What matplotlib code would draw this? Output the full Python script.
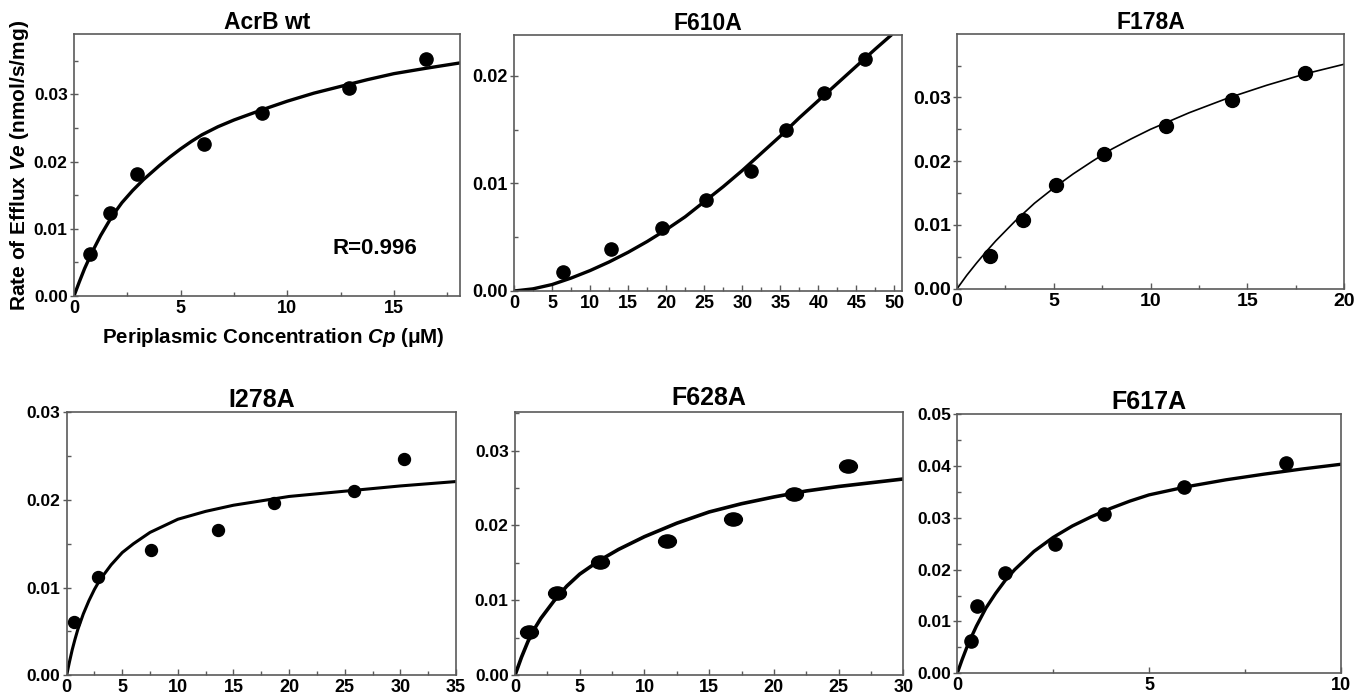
import matplotlib
matplotlib.use("Agg")
import matplotlib.pyplot as plt
from matplotlib.ticker import MultipleLocator, FormatStrFormatter
from matplotlib.markers import MarkerStyle
from matplotlib.transforms import Affine2D

plt.rcParams['font.family'] = ['Liberation Sans', 'DejaVu Sans']
plt.rcParams['font.weight'] = 'bold'
plt.rcParams['mathtext.fontset'] = 'custom'
plt.rcParams['mathtext.it'] = 'Liberation Sans:italic:bold'
plt.rcParams['mathtext.rm'] = 'Liberation Sans:bold'

# ---- data ----
titles = ["AcrB wt", "F610A", "F178A", "I278A", "F628A", "F617A"]

wt_x = [0.75, 1.7, 2.95, 6.1, 8.8, 12.9, 16.5]
wt_y = [0.0062, 0.0123, 0.0181, 0.0226, 0.0273, 0.0310, 0.0353]
wt_fit_x = [0, 0.25, 0.5, 0.83, 1.25, 1.77, 2.25, 2.75, 3.25, 4, 4.5, 5, 5.5, 6, 6.75, 7.5,
            8.8, 10, 11.25, 12.5, 13.75, 15, 16.5, 18.1]
wt_fit_y = [0, 0.0021, 0.0041, 0.0064, 0.0090, 0.0118, 0.0139, 0.0157, 0.0173, 0.0194,
            0.0207, 0.0219, 0.0230, 0.0240, 0.0252, 0.0262, 0.0277, 0.0290, 0.0302,
            0.0312, 0.0322, 0.0331, 0.0339, 0.0347]

f610_x = [6.5, 12.8, 19.4, 25.3, 31.2, 35.7, 40.8, 46.1]
f610_y = [0.0018, 0.0039, 0.0059, 0.0085, 0.0112, 0.0150, 0.0184, 0.0216]
f610_fit_x = [0, 2.5, 5, 7.5, 10, 12.5, 15, 17.5, 20, 22.5, 25, 27.5, 30, 32.5, 35, 37.5,
              40, 42.5, 45, 47.5, 49.6]
f610_fit_y = [0, 0.0002, 0.0006, 0.0012, 0.0019, 0.0027, 0.0036, 0.0046, 0.0057, 0.0069,
              0.0083, 0.0097, 0.0112, 0.0128, 0.0144, 0.0161, 0.0177, 0.0193, 0.0209,
              0.0225, 0.0238]

f178_x = [1.72, 3.41, 5.1, 7.58, 10.82, 14.21, 17.97]
f178_y = [0.0051, 0.0107, 0.0162, 0.0212, 0.0255, 0.0296, 0.0338]
f178_fit_x = [0, 0.5, 1, 1.5, 2, 3, 4, 5, 6, 7, 8, 9, 10, 12, 14, 16, 18, 20]
f178_fit_y = [0, 0.0021, 0.0040, 0.0058, 0.0075, 0.0106, 0.0134, 0.0158, 0.0180, 0.0200,
              0.0219, 0.0235, 0.0250, 0.0276, 0.0299, 0.0319, 0.0337, 0.0352]

i278_x = [0.66, 2.86, 7.6, 13.6, 18.6, 25.8, 30.3]
i278_y = [0.0061, 0.0112, 0.0143, 0.0166, 0.0196, 0.0210, 0.0247]
i278_fit_x = [0, 0.25, 0.5, 0.75, 1, 1.5, 2, 2.5, 3, 4, 5, 6, 7.5, 9, 10, 12.5, 15, 17.5,
              20, 25, 30, 35]
i278_fit_y = [0, 0.0015, 0.0029, 0.0041, 0.0052, 0.0070, 0.0085, 0.0098, 0.0109, 0.0126,
              0.0140, 0.0150, 0.0163, 0.0172, 0.0178, 0.0187, 0.0194, 0.0199, 0.0204,
              0.0210, 0.0216, 0.0221]

f628_x = [1.1, 3.27, 6.57, 11.77, 16.81, 21.57, 25.7]
f628_y = [0.0058, 0.0110, 0.0151, 0.0179, 0.0208, 0.0242, 0.0279]
f628_fit_x = [0, 0.5, 1, 1.5, 2, 3, 4, 5, 6.5, 8, 10, 12.5, 15, 17.5, 20, 22.5, 25, 27.5, 30]
f628_fit_y = [0, 0.0024, 0.0045, 0.0062, 0.0076, 0.0099, 0.0119, 0.0135, 0.0153, 0.0168,
              0.0185, 0.0203, 0.0218, 0.0229, 0.0238, 0.0246, 0.0252, 0.0257, 0.0262]

f617_x = [0.37, 0.52, 1.25, 2.55, 3.83, 5.91, 8.57]
f617_y = [0.0062, 0.0129, 0.0193, 0.0250, 0.0307, 0.0359, 0.0406]
f617_fit_x = [0, 0.125, 0.25, 0.375, 0.5, 0.75, 1, 1.25, 1.5, 2, 2.5, 3, 3.5, 4, 4.5, 5,
              6, 7, 8, 9, 10]
f617_fit_y = [0, 0.0026, 0.0050, 0.0071, 0.0091, 0.0126, 0.0154, 0.0179, 0.0200, 0.0235,
              0.0262, 0.0284, 0.0302, 0.0318, 0.0332, 0.0344, 0.0360, 0.0373, 0.0384,
              0.0394, 0.0403]

xlims = [18.1, 51, 20, 35, 30, 10]
ylims = [0.039, 0.0238, 0.0399, 0.030, 0.0351, 0.05]
xmajor = [5, 5, 5, 5, 5, 5]
xminor = [2.5, 2.5, 2.5, 2.5, 2.5, 2.5]

fig = plt.figure(figsize=(13.57, 7.0), dpi=100)

# axes rectangles [left, bottom, width, height] in figure fractions
rects = [
    [0.0545, 0.5771, 0.2845, 0.3743],
    [0.3788, 0.5843, 0.2859, 0.3657],
    [0.7053, 0.5876, 0.2851, 0.3634],
    [0.0491, 0.0353, 0.2869, 0.3757],
    [0.3795, 0.0353, 0.2862, 0.3757],
    [0.7054, 0.0381, 0.2826, 0.3705],
]

panels = [
    (wt_x, wt_y, wt_fit_x, wt_fit_y),
    (f610_x, f610_y, f610_fit_x, f610_fit_y),
    (f178_x, f178_y, f178_fit_x, f178_fit_y),
    (i278_x, i278_y, i278_fit_x, i278_fit_y),
    (f628_x, f628_y, f628_fit_x, f628_fit_y),
    (f617_x, f617_y, f617_fit_x, f617_fit_y),
]

line_w = [2.4, 2.4, 1.2, 2.2, 2.6, 2.4]
mark_s = [9.5, 9.5, 10, 8.6, 9.5, 9.5]
title_fs = [16.5, 16.5, 16.5, 18, 18, 18]
title_pad = [2, 2, 2, 4, 5, 1]
ytick_fs = [12.5, 13, 14, 12.5, 12.5, 12.5]
xtick_fs = [13, 13, 14, 13, 13, 13]

for i, (px, py, fx, fy) in enumerate(panels):
    ax = fig.add_axes(rects[i])
    ax.plot(fx, fy, color='black', lw=line_w[i], solid_joinstyle='round',
            solid_capstyle='round', zorder=2)
    if i == 4:
        mk = MarkerStyle('o', transform=Affine2D().scale(1.35, 1.0))
    else:
        mk = 'o'
    ax.plot(px, py, linestyle='none', marker=mk, ms=mark_s[i], color='black', zorder=3)

    ax.set_xlim(0, xlims[i])
    ax.set_ylim(0, ylims[i])
    ax.xaxis.set_major_locator(MultipleLocator(xmajor[i]))
    ax.xaxis.set_minor_locator(MultipleLocator(xminor[i]))
    ax.yaxis.set_major_locator(MultipleLocator(0.01))
    ax.yaxis.set_minor_locator(MultipleLocator(0.005))
    ax.yaxis.set_major_formatter(FormatStrFormatter('%.2f'))

    for sp in ax.spines.values():
        sp.set_color('#5a5a5a')
        sp.set_linewidth(1.2)
    ax.tick_params(axis='y', which='major', direction='inout', length=6, width=1,
                   color='#5a5a5a', pad=1.5, labelsize=ytick_fs[i])
    ax.tick_params(axis='y', which='minor', direction='in', length=3, width=1,
                   color='#5a5a5a')
    ax.tick_params(axis='x', which='major', direction='in', length=4, width=1,
                   color='#5a5a5a', pad=3, labelsize=xtick_fs[i])
    ax.tick_params(axis='x', which='minor', direction='in', length=3, width=1,
                   color='#5a5a5a')
    for lab in ax.get_xticklabels() + ax.get_yticklabels():
        lab.set_fontweight('bold')

    ax.set_title(titles[i], fontsize=title_fs[i], fontweight='bold', pad=title_pad[i])

    if i == 0:
        ax.set_ylabel(r'Rate of Efflux $\mathit{Ve}$ (nmol/s/mg)', fontsize=15,
                      fontweight='bold')
        ax.yaxis.set_label_coords(-0.112, 0.5)
        ax.set_xlabel(r'Periplasmic Concentration $\mathit{Cp}$ (μM)', fontsize=14.8,
                      fontweight='bold')
        ax.xaxis.set_label_coords(0.517, -0.115)
        ax.text(0.78, 0.183, 'R=0.996', transform=ax.transAxes, fontsize=16,
                fontweight='bold', ha='center', va='center')

fig.savefig('out.png', dpi=100)
